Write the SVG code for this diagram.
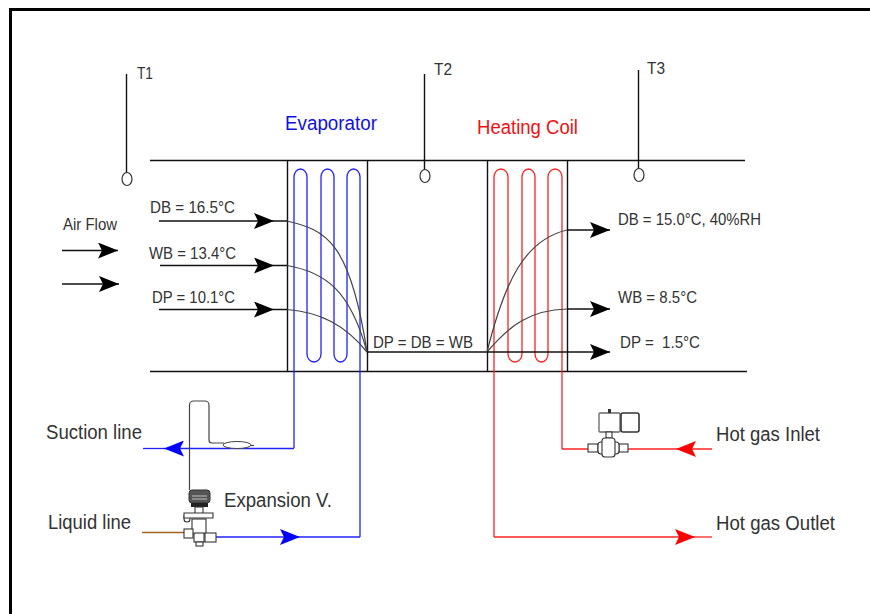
<svg xmlns="http://www.w3.org/2000/svg" width="870" height="614" viewBox="0 0 870 614">
<defs>
<marker id="ak" markerUnits="userSpaceOnUse" markerWidth="22" markerHeight="16" refX="20" refY="8" orient="auto"><path d="M0 0L20 8L0 16L4 8Z" fill="#000"/></marker>
<marker id="ab" markerUnits="userSpaceOnUse" markerWidth="22" markerHeight="16" refX="20" refY="8" orient="auto"><path d="M0 0L20 8L0 16L4 8Z" fill="#00f"/></marker>
<marker id="ar" markerUnits="userSpaceOnUse" markerWidth="22" markerHeight="16" refX="20" refY="8" orient="auto"><path d="M0 0L20 8L0 16L4 8Z" fill="#f00"/></marker>
</defs>
<style>
text{font-family:"Liberation Sans",Arial,sans-serif;fill:#333;white-space:pre}
.s{font-size:16px}
.l{font-size:20px}
.k{fill:none;stroke:#111;stroke-width:1.4}
.c{fill:none;stroke:#444;stroke-width:1.2}
.b{fill:none;stroke:#22f;stroke-width:1.3}
.r{fill:none;stroke:#f22;stroke-width:1.3}
.v{fill:#fff;stroke:#333;stroke-width:1.1}
</style>
<rect width="870" height="614" fill="#fff"/>
<path id="frame" d="M10.500 614V9.500H870" fill="none" stroke="#000" stroke-width="3"/>
<g id="connectors">
<path class="k" d="M150 160.500H745M150 371.500H747M287.500 160V371M367.500 160V371M487.500 160V371M567.500 160V371"/>
<path class="k" d="M126.500 74V173M424.500 74V170M638.500 70V169"/>
<path class="b" d="M294 448V177a6.500 8 0 0 1 13 0V354a7 8 0 0 0 14 0V177a6.500 8 0 0 1 13 0V354a6.500 8 0 0 0 13 0V177a6.500 8 0 0 1 13 0V537"/>
<path class="r" d="M494 537V177a7 8 0 0 1 14 0V354a7 8 0 0 0 14 0V177a6.500 8 0 0 1 13 0V354a6.500 8 0 0 0 13 0V177a7 8 0 0 1 14 0V449"/>
<path class="k" marker-end="url(#ak)" d="M62 250.500H118"/>
<path class="k" marker-end="url(#ak)" d="M62 284H119"/>
<path class="k" marker-end="url(#ak)" d="M159 221H274"/>
<path class="k" marker-end="url(#ak)" d="M160 265.500H274"/>
<path class="k" marker-end="url(#ak)" d="M159 309.500H274"/>
<path class="k" d="M274 221H287M274 265.500H287M274 309.500H287"/>
<path class="c" d="M287 221C325 230 350 240 367 352"/>
<path class="c" d="M287 265.500C325 272 350 290 367 352"/>
<path class="c" d="M287 309.500C320 312 345 325 367 352"/>
<path class="k" d="M367 352H487"/>
<path class="c" d="M487 352C505 280 525 240 567 230"/>
<path class="c" d="M487 352C510 325 530 310 567 309"/>
<path class="k" marker-end="url(#ak)" d="M567 230H610"/>
<path class="k" marker-end="url(#ak)" d="M567 309H610"/>
<path class="k" marker-end="url(#ak)" d="M487 352H610"/>
<path class="b" marker-end="url(#ab)" d="M294 448.500H164"/>
<path class="b" d="M164 448.500H143"/>
<path class="b" marker-end="url(#ab)" d="M216 537H300"/>
<path class="b" d="M300 537H360"/>
<path class="r" marker-end="url(#ar)" d="M494 537H695"/>
<path class="r" d="M695 537H712"/>
<path class="r" marker-end="url(#ar)" d="M712 449H676"/>
<path class="r" d="M676 449H562"/>
<path d="M142 532.500H184" fill="none" stroke="#a8631f" stroke-width="1.300"/>
<path class="c" d="M189.500 490V405a4 4 0 0 1 4-4H205a4 4 0 0 1 4 4V440a3 3 0 0 0 3 3H224"/>
</g>
<g id="sensor-t1"><ellipse cx="127" cy="179" rx="5" ry="6.500" fill="none" stroke="#333" stroke-width="1.200"/><text class="s" x="137" y="79" textLength="16" lengthAdjust="spacingAndGlyphs">T1</text></g>
<g id="sensor-t2"><ellipse cx="425" cy="176" rx="5" ry="6.500" fill="none" stroke="#333" stroke-width="1.200"/><text class="s" x="434" y="75" textLength="18" lengthAdjust="spacingAndGlyphs">T2</text></g>
<g id="sensor-t3"><ellipse cx="639" cy="175" rx="5" ry="6.500" fill="none" stroke="#333" stroke-width="1.200"/><text class="s" x="647" y="74" textLength="18" lengthAdjust="spacingAndGlyphs">T3</text></g>
<g id="bulb"><ellipse cx="237" cy="445" rx="14" ry="3.500" fill="#fff" stroke="#444" stroke-width="1"/><path class="c" d="M251 445.500H254"/></g>
<g id="expansion-valve">
<rect x="189" y="490" width="21" height="13" rx="3" fill="#555" stroke="#333"/>
<path d="M192 496H207M192 499H207" stroke="#ddd" stroke-width="0.800"/>
<rect x="191" y="503" width="17" height="4" fill="#222"/>
<rect x="195" y="507" width="8" height="8" class="v"/>
<rect x="184" y="514" width="6" height="8" rx="3" class="v"/>
<path d="M184 513H213V518H184Z" class="v"/>
<rect x="192" y="519" width="14" height="15" class="v"/>
<rect x="184" y="529" width="9" height="9" class="v"/>
<rect x="205" y="533" width="11" height="9" class="v"/>
<rect x="194" y="533" width="10" height="9" class="v"/>
<rect x="196" y="542" width="7" height="4" class="v"/>
</g>
<g id="solenoid-valve">
<rect x="599" y="413" width="21" height="19" rx="1" fill="#fff" stroke="#666" stroke-width="1.300"/>
<rect x="621" y="413" width="18" height="19" rx="2" fill="#fff" stroke="#333" stroke-width="1.600"/>
<rect x="608" y="409" width="3" height="4" fill="#333"/>
<rect x="606" y="432" width="6" height="6" class="v"/>
<rect x="588" y="444" width="10" height="8" class="v"/>
<rect x="619" y="444" width="9" height="8" class="v"/>
<rect x="598" y="442" width="21" height="12" rx="3" class="v"/>
<rect x="602" y="438" width="13" height="19" rx="3" class="v"/>
</g>
<g id="labels">
<text x="285" y="130" class="l" style="fill:#1010e0" textLength="92" lengthAdjust="spacingAndGlyphs">Evaporator</text>
<text x="477" y="134" class="l" style="fill:#f01010" textLength="101" lengthAdjust="spacingAndGlyphs">Heating Coil</text>
<text x="63" y="230" class="s" textLength="54" lengthAdjust="spacingAndGlyphs">Air Flow</text>
<text x="150" y="213" class="s" textLength="85" lengthAdjust="spacingAndGlyphs">DB = 16.5°C</text>
<text x="149" y="259" class="s" textLength="87" lengthAdjust="spacingAndGlyphs">WB = 13.4°C</text>
<text x="152" y="303" class="s" textLength="83" lengthAdjust="spacingAndGlyphs">DP = 10.1°C</text>
<text x="373" y="348" class="s" textLength="100" lengthAdjust="spacingAndGlyphs">DP = DB = WB</text>
<text x="618" y="225" class="s" textLength="143" lengthAdjust="spacingAndGlyphs">DB = 15.0°C, 40%RH</text>
<text x="618" y="303" class="s" textLength="79" lengthAdjust="spacingAndGlyphs">WB = 8.5°C</text>
<text x="620" y="348" class="s" textLength="80" lengthAdjust="spacingAndGlyphs">DP =  1.5°C</text>
<text x="46" y="439" class="l" textLength="96" lengthAdjust="spacingAndGlyphs">Suction line</text>
<text x="48" y="529" class="l" textLength="83" lengthAdjust="spacingAndGlyphs">Liquid line</text>
<text x="224" y="507" class="l" textLength="108" lengthAdjust="spacingAndGlyphs">Expansion V.</text>
<text x="716" y="441" class="l" textLength="104" lengthAdjust="spacingAndGlyphs">Hot gas Inlet</text>
<text x="716" y="530" class="l" textLength="119" lengthAdjust="spacingAndGlyphs">Hot gas Outlet</text>
</g>
</svg>
